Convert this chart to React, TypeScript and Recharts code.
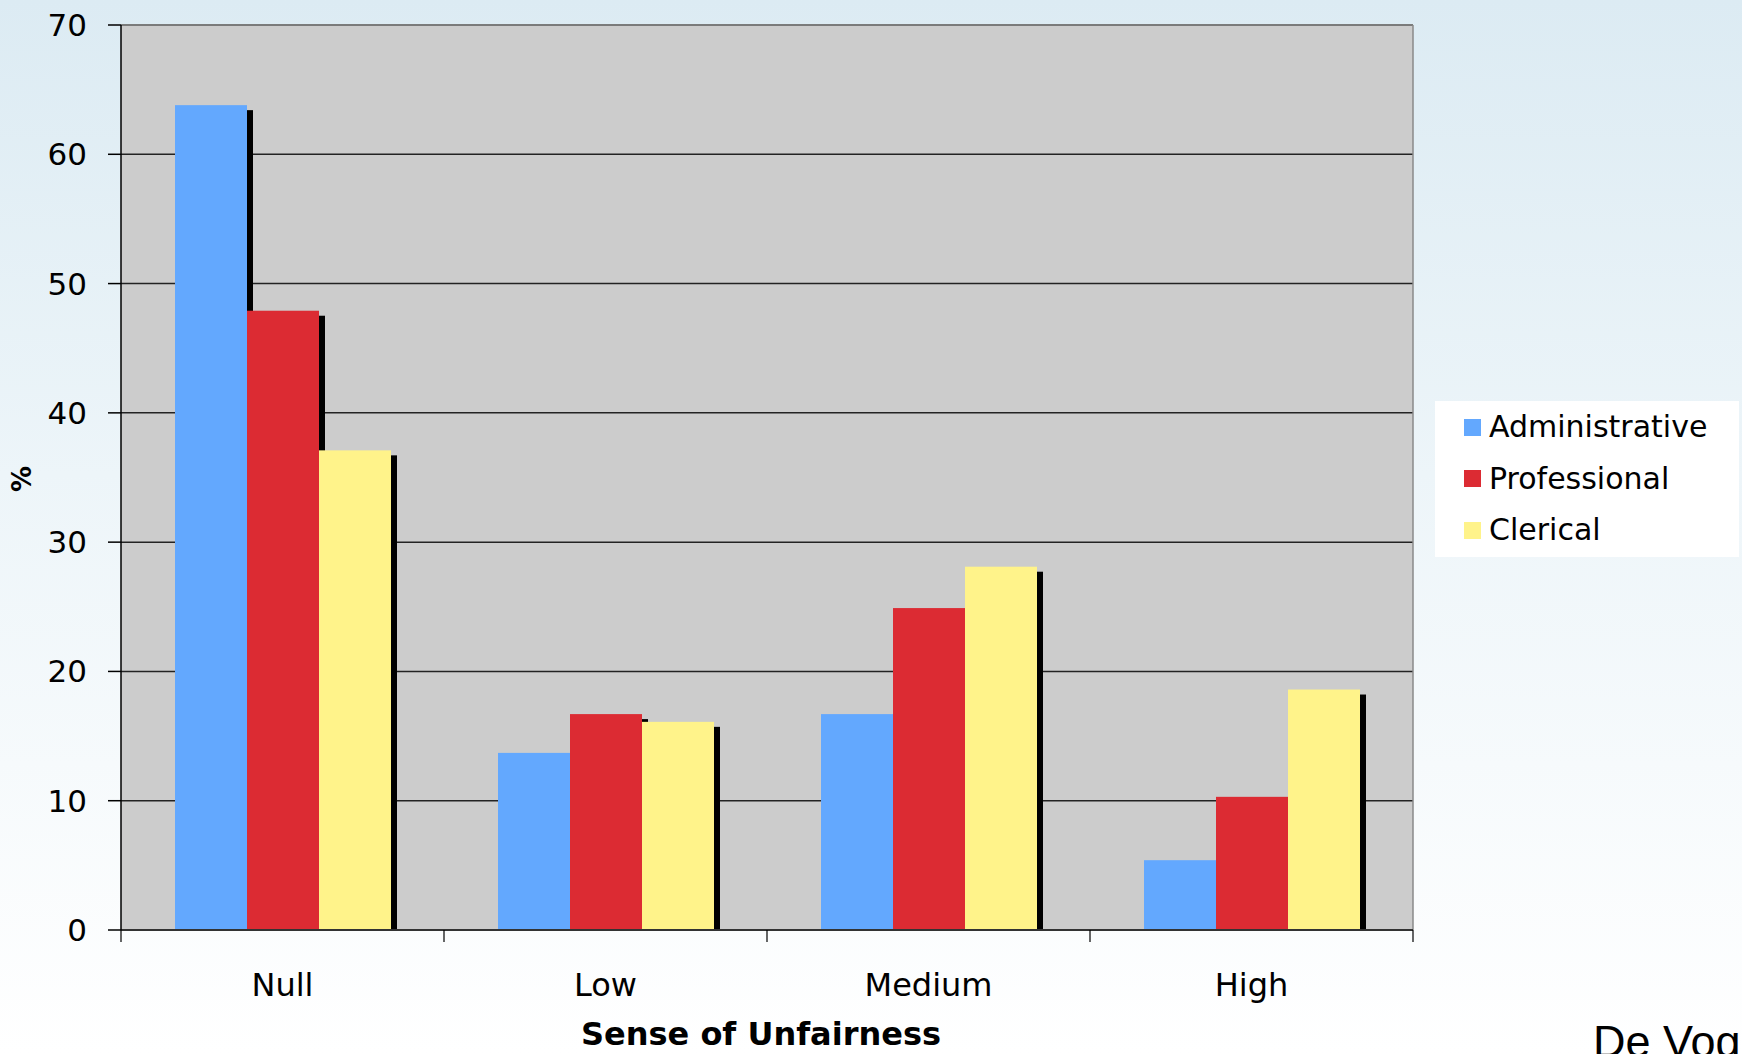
import React from 'react';
import { BarChart, Bar, XAxis, YAxis, CartesianGrid, ReferenceLine, Label } from 'recharts';

// Share of respondents (%) by perceived unfairness, per occupational group
const categories = ['Null', 'Low', 'Medium', 'High'];
const administrative = [63.8, 13.7, 16.7, 5.4];
const professional = [47.9, 16.7, 24.9, 10.3];
const clerical = [37.1, 16.1, 28.1, 18.6];
const yTicks = [0, 10, 20, 30, 40, 50, 60, 70];

const seriesNames = ['Administrative', 'Professional', 'Clerical'];
const seriesKeys = ['administrative', 'professional', 'clerical'];
const seriesColors = ['#63a8fe', '#dc2b33', '#fff38a'];

const data = categories.map((c, i) => ({
  category: c,
  administrative: administrative[i],
  professional: professional[i],
  clerical: clerical[i],
}));

const FONT = '"DejaVu Sans", Verdana, sans-serif';
const W = 1742;
const H = 1054;

// Bar with a hard black drop shadow down and to the right
const ShadowBar = (props: any) => {
  const { x, y, width, height, fill } = props;
  if (!height || height <= 0) return null;
  return (
    <g>
      <rect x={x + 6} y={y + 5} width={width} height={Math.max(height - 5, 0)} fill="#000" />
      <rect x={x} y={y} width={width} height={height} fill={fill} />
    </g>
  );
};

// Category label, plus tick marks on the band boundaries rather than the band centre
const CategoryTick = (props: any) => {
  const { x, y, payload, index, visibleTicksCount } = props;
  const half = payload && payload.offset ? payload.offset : 0;
  const last = index === visibleTicksCount - 1;
  return (
    <g>
      <line x1={x - half} x2={x - half} y1={y} y2={y + 12} stroke="#000" strokeWidth={1.2} />
      {last && <line x1={x + half} x2={x + half} y1={y} y2={y + 12} stroke="#000" strokeWidth={1.2} />}
      <text x={x} y={y} dy={66} textAnchor="middle" fontFamily={FONT} fontSize={32} fill="#000">
        {payload.value}
      </text>
    </g>
  );
};

const ValueTick = (props: any) => {
  const { x, y, payload } = props;
  return (
    <text x={x} y={y} dy={11} textAnchor="end" fontFamily={FONT} fontSize={31} fill="#000">
      {payload.value}
    </text>
  );
};

export default function App() {
  return (
    <div
      style={{
        position: 'absolute',
        left: 0,
        top: 0,
        width: W,
        height: H,
        overflow: 'hidden',
        background: 'linear-gradient(to bottom, #dcebf3 0%, #edf5f9 45%, #ffffff 100%)',
      }}
    >
      <div style={{ position: 'absolute', left: 0, top: 0 }}>
        <BarChart
          width={W}
          height={H}
          data={data}
          margin={{ top: 25, right: 329, bottom: 0, left: 1 }}
          barCategoryGap={54}
          barGap={0}
        >
          <CartesianGrid vertical={false} fill="#cccccc" stroke="#222" strokeWidth={1.5} />
          <XAxis
            dataKey="category"
            height={124}
            tickSize={0}
            tickMargin={0}
            tickLine={false}
            axisLine={{ stroke: '#333', strokeWidth: 2 }}
            tick={<CategoryTick />}
            interval={0}
          >
            <Label
              content={(p: any) => {
                const vb = p.viewBox;
                return (
                  <text
                    x={vb.x + vb.width / 2 - 6}
                    y={1045}
                    textAnchor="middle"
                    fontFamily={FONT}
                    fontWeight="bold"
                    fontSize={32}
                    fill="#000"
                  >
                    Sense of Unfairness
                  </text>
                );
              }}
            />
          </XAxis>
          <YAxis
            domain={[0, 70]}
            ticks={yTicks}
            width={120}
            tickSize={13}
            tickMargin={21}
            tickLine={{ stroke: '#000', strokeWidth: 1.5 }}
            axisLine={{ stroke: '#000', strokeWidth: 1.5 }}
            tick={<ValueTick />}
            interval={0}
          >
            <Label
              content={() => (
                <text
                  x={22}
                  y={479}
                  transform="rotate(-90 22 479)"
                  textAnchor="middle"
                  dominantBaseline="central"
                  fontFamily={FONT}
                  fontWeight="bold"
                  fontSize={26}
                  fill="#000"
                >
                  %
                </text>
              )}
            />
          </YAxis>
          {seriesKeys.map((k, i) => (
            <Bar
              key={k}
              dataKey={k}
              name={seriesNames[i]}
              fill={seriesColors[i]}
              shape={<ShadowBar />}
              isAnimationActive={false}
            />
          ))}
          <ReferenceLine y={70} stroke="#8a8a8a" strokeWidth={1.5} />
          <ReferenceLine x={categories[categories.length - 1]} position="end" stroke="#8a8a8a" strokeWidth={1.5} />
        </BarChart>
      </div>

      {/* series key */}
      <div
        style={{
          position: 'absolute',
          left: 1435,
          top: 401,
          width: 304,
          height: 156,
          background: '#ffffff',
          fontFamily: FONT,
          fontSize: 30,
          color: '#000',
        }}
      >
        {seriesNames.map((name, i) => (
          <div
            key={name}
            style={{
              position: 'absolute',
              left: 29,
              top: 26 + i * 51.5 - 20,
              height: 40,
              display: 'flex',
              alignItems: 'center',
              whiteSpace: 'nowrap',
            }}
          >
            <span
              style={{
                display: 'inline-block',
                width: 17,
                height: 17,
                background: seriesColors[i],
                marginRight: 8,
              }}
            />
            <span style={{ lineHeight: '40px' }}>{name}</span>
          </div>
        ))}
      </div>

      <div
        style={{
          position: 'absolute',
          left: 1593,
          top: 1060 - 41,
          fontFamily: '"Liberation Sans", Arial, sans-serif',
          fontSize: 45,
          lineHeight: '45px',
          whiteSpace: 'nowrap',
          color: '#000',
        }}
      >
        De Vogli
      </div>
    </div>
  );
}
